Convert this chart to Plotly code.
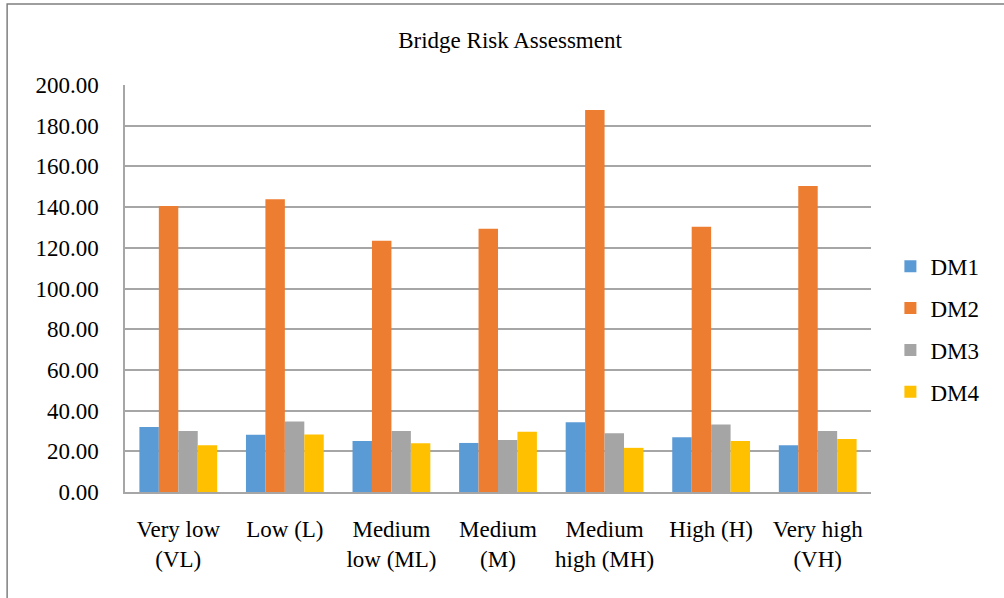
import plotly.graph_objects as go

categories = ["Very low<br>(VL)", "Low (L)", "Medium<br>low (ML)", "Medium<br>(M)",
              "Medium<br>high (MH)", "High (H)", "Very high<br>(VH)"]
dm1 = [32.0, 28.1, 25.1, 24.1, 34.3, 26.9, 23.0]
dm2 = [140.6, 143.9, 123.5, 129.3, 187.7, 130.4, 150.4]
dm3 = [30.0, 34.6, 30.0, 25.6, 28.9, 33.2, 30.0]
dm4 = [23.0, 28.2, 24.0, 29.6, 21.7, 25.1, 26.1]
series_names = ["DM1", "DM2", "DM3", "DM4"]
series_colors = ["#5B9BD5", "#ED7D31", "#A5A5A5", "#FFC000"]
y_ticks = list(range(0, 201, 20))

FONT = "Liberation Serif, Times New Roman, serif"

fig = go.Figure()
for name, vals, col in zip(series_names, [dm1, dm2, dm3, dm4], series_colors):
    fig.add_trace(go.Bar(name=name, x=categories, y=vals, legendgroup=name,
                         marker=dict(color=col, line=dict(width=0))))

fig.update_layout(
    width=1004, height=598,
    barmode="group", bargap=0.27, bargroupgap=0,
    paper_bgcolor="white", plot_bgcolor="white",
    margin=dict(l=125, r=133, t=85, b=106, autoexpand=False),
    font=dict(family=FONT, size=23, color="black"),
    title=dict(text="Bridge Risk Assessment", x=0.508, xanchor="center",
               y=0.933, yanchor="middle", font=dict(family=FONT, size=23)),
    legend=dict(x=1.026, y=0.40, xanchor="left", yanchor="middle",
                font=dict(family=FONT, size=23), traceorder="grouped",
                tracegroupgap=9, itemwidth=30, bgcolor="rgba(0,0,0,0)"),
    showlegend=True,
    xaxis=dict(showline=True, linecolor="#a6a6a6", linewidth=1.5,
               ticks="", tickfont=dict(family=FONT, size=23),
               ticklabelstandoff=16),
    yaxis=dict(range=[0, 200], tickvals=y_ticks, tickformat=".2f",
               showgrid=True, gridcolor="#a6a6a6", gridwidth=1.5,
               showline=True, linecolor="#a6a6a6", linewidth=1.5,
               zeroline=False, ticks="",
               ticklabelstandoff=20, tickfont=dict(family=FONT, size=23)),
    shapes=[dict(type="rect", xref="paper", yref="paper",
                 x0=-0.158, x1=1.2, y0=-0.3, y1=1.199,
                 line=dict(color="#7f7f7f", width=1.5), fillcolor="rgba(0,0,0,0)",
                 layer="below")],
)

fig.write_html("out.html")
